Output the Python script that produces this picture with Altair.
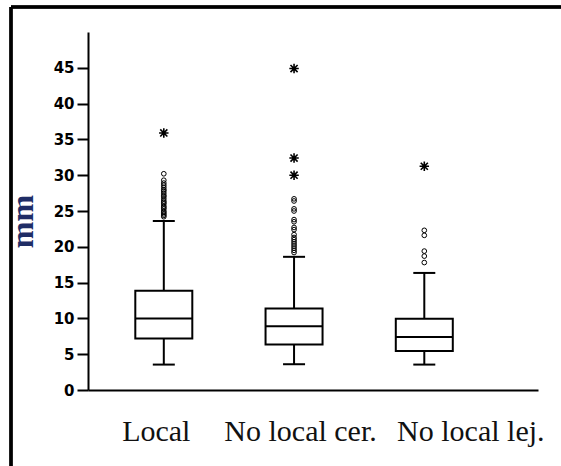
import altair as alt
import pandas as pd

groups = ["Local", "No local cer.", "No local lej."]
whisk_lo = [3.55, 3.6, 3.55]
q1 = [7.2, 6.35, 5.45]
median = [10.0, 8.9, 7.4]
q3 = [13.85, 11.4, 9.95]
whisk_hi = [23.6, 18.6, 16.35]

out_local = [24.2, 24.4, 24.6, 24.8, 25.0, 25.3, 25.5, 25.7, 26.0, 26.2, 26.4,
             26.7, 27.0, 27.2, 27.5, 27.8, 28.0, 28.3, 28.6, 28.9, 29.3, 30.2]
out_cer = [19.2, 19.5, 19.8, 20.1, 20.4, 20.7, 21.0, 21.3, 21.7, 22.4, 22.7,
           23.5, 23.8, 25.0, 25.3, 26.4, 26.7]
out_lej = [17.8, 18.7, 19.4, 21.6, 22.3]
ext_local = [35.9]
ext_cer = [30.0, 32.4, 44.9]
ext_lej = [31.25]

y_ticks = [0, 5, 10, 15, 20, 25, 30, 35, 40, 45]

stats = pd.DataFrame({"group": groups, "lo": whisk_lo, "q1": q1, "med": median,
                      "q3": q3, "hi": whisk_hi})
circ = pd.DataFrame({"group": ["Local"] * len(out_local) + ["No local cer."] * len(out_cer)
                     + ["No local lej."] * len(out_lej),
                     "v": out_local + out_cer + out_lej})
ext = pd.DataFrame({"group": ["Local"] * len(ext_local) + ["No local cer."] * len(ext_cer)
                    + ["No local lej."] * len(ext_lej),
                    "v": ext_local + ext_cer + ext_lej})

xscale = alt.Scale(type="point", domain=groups, padding=0.7275, align=0.4)
xaxis = alt.Axis(
    title=None, ticks=False, tickSize=0, domainWidth=2, domainColor="black",
    labelAngle=0, labelBaseline="alphabetic", labelPadding=50,
    labelOffset={"condition": [{"test": "datum.value === 'Local'", "value": -8},
                               {"test": "datum.value === 'No local lej.'", "value": 46}],
                 "value": 6},
)
yscale = alt.Scale(domain=[0, 50], nice=False, zero=True)
yaxis = alt.Axis(
    title="mm", values=y_ticks, grid=False, domainWidth=2, domainColor="black",
    tickSize=11, tickWidth=2, tickColor="black",
    labelFont="DejaVu Sans", labelFontWeight="bold", labelFontSize=15,
    labelColor="black", labelPadding=3,
    titleFont="Liberation Serif", titleFontSize=32, titleFontWeight="bold",
    titleColor="#1f2d66", titleAngle=-90, titleAlign="center",
    titleBaseline="alphabetic", titleX=-56, titleY=189,
)

X = alt.X("group:N", scale=xscale, axis=xaxis, sort=groups)
base = alt.Chart(stats)

whisk_low = base.mark_rule(color="black", strokeWidth=2).encode(
    x=X, y=alt.Y("lo:Q", scale=yscale, axis=yaxis), y2="q1:Q")
whisk_up = base.mark_rule(color="black", strokeWidth=2).encode(
    x=X, y=alt.Y("q3:Q", scale=yscale, axis=yaxis), y2="hi:Q")
box = base.mark_bar(size=57, fill="white", stroke="black", strokeWidth=2).encode(
    x=X, y=alt.Y("q1:Q", scale=yscale, axis=yaxis), y2="q3:Q")
med = base.mark_tick(size=57, thickness=2, color="black", opacity=1).encode(
    x=X, y=alt.Y("med:Q", scale=yscale, axis=yaxis))
cap_lo = base.mark_tick(size=22, thickness=2, color="black", opacity=1).encode(
    x=X, y=alt.Y("lo:Q", scale=yscale, axis=yaxis))
cap_hi = base.mark_tick(size=22, thickness=2, color="black", opacity=1).encode(
    x=X, y=alt.Y("hi:Q", scale=yscale, axis=yaxis))
pts = alt.Chart(circ).mark_point(shape="circle", size=22, filled=False,
                                 stroke="black", strokeWidth=1, opacity=1).encode(
    x=X, y=alt.Y("v:Q", scale=yscale, axis=yaxis))
stars = alt.Chart(ext).mark_point(
    shape="M-1,0L1,0M0,-1L0,1M-0.75,-0.75L0.75,0.75M-0.75,0.75L0.75,-0.75",
    size=90, filled=False, stroke="black", strokeWidth=1.6, opacity=1).encode(
    x=X, y=alt.Y("v:Q", scale=yscale, axis=yaxis))

frame_top = alt.Chart(stats).mark_rule(color="black", strokeWidth=3).encode(
    x=alt.value(-77), x2=alt.value(500), y=alt.value(-25))
frame_left = alt.Chart(stats).mark_rule(color="black", strokeWidth=3).encode(
    x=alt.value(-77), y=alt.value(-25), y2=alt.value(460))

chart = alt.layer(frame_top, frame_left, whisk_low, whisk_up, box, med,
                  cap_lo, cap_hi, pts, stars).properties(
    width=450, height=358,
    autosize=alt.AutoSizeParams(type="none"),
    padding={"left": 88, "top": 32, "right": 23, "bottom": 76},
    background="white",
).configure_view(stroke=None).configure_axisX(
    labelFont="Liberation Serif", labelFontSize=30, labelColor="#111111"
)

chart.save("out.html", embed_options={"renderer": "svg", "actions": False})
